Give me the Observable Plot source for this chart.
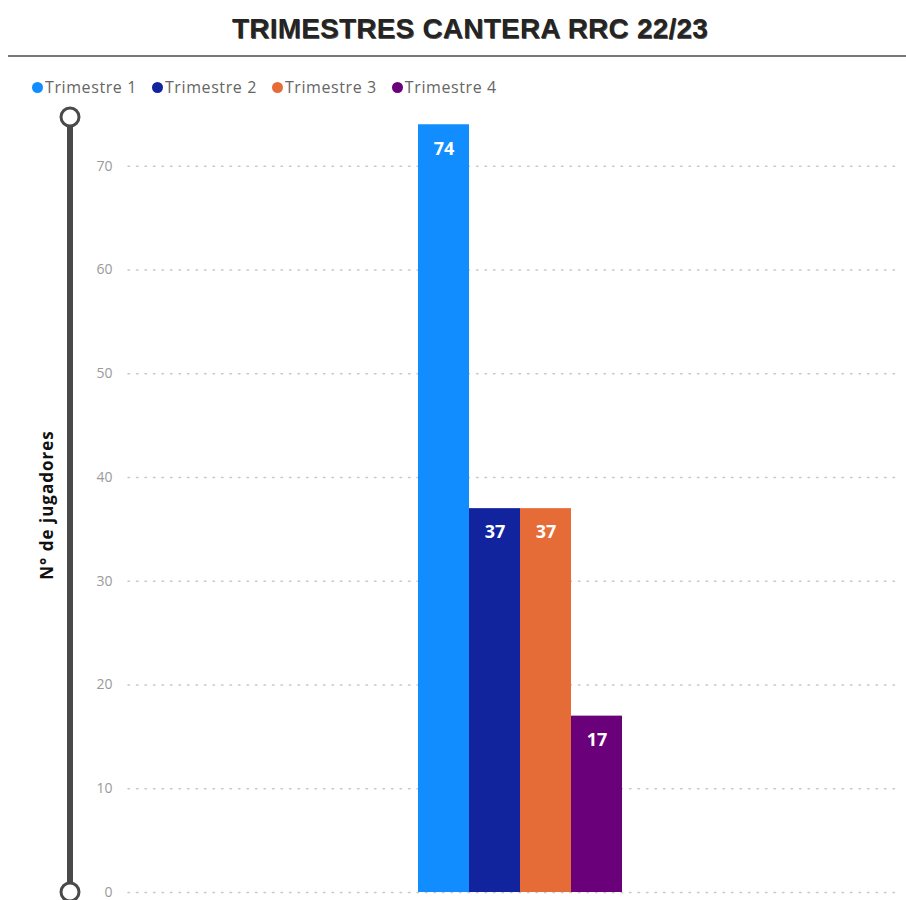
<!DOCTYPE html>
<html>
<head>
<meta charset="utf-8">
<script src="https://cdn.jsdelivr.net/npm/d3@7"></script>
<script src="https://cdn.jsdelivr.net/npm/@observablehq/plot@0.6"></script>
<style>
  html, body { margin: 0; padding: 0; background: #fff; }
  #wrap { position: relative; width: 906px; height: 900px; overflow: hidden; }
  #title { position: absolute; left: 0; top: 13px; width: 940px; text-align: center;
    font-family: "Liberation Sans", Arial, sans-serif; font-weight: bold; font-size: 28px;
    color: #252423; text-shadow: 0.6px 0.6px 0 #555; letter-spacing: 0.2px; }
  #rule { position: absolute; left: 8px; top: 55px; width: 898px; height: 2px; background: #777; }
  #legend { position: absolute; left: 32px; top: 76px; display: flex; gap: 15px;
    font-family: "Open Sans", "Noto Sans", sans-serif; font-size: 16px; letter-spacing: 0.6px; color: #666; }
  #legend .item { display: flex; align-items: center; }
  #legend .dot { width: 11px; height: 11px; border-radius: 50%; margin-right: 2px; }
  #chart { position: absolute; left: 0; top: 100px; }
</style>
</head>
<body>
<div id="wrap">
  <div id="title"></div>
  <div id="rule"></div>
  <div id="legend"></div>
  <div id="chart"></div>
</div>
<script>
const titleText = "TRIMESTRES CANTERA RRC 22/23";
const series = ["Trimestre 1", "Trimestre 2", "Trimestre 3", "Trimestre 4"];
const values = [74, 37, 37, 17];
const colors = ["#118DFF", "#12239E", "#E66C37", "#6B007B"];
const yTicks = [0, 10, 20, 30, 40, 50, 60, 70];
const yLabel = "N° de jugadores";

document.getElementById("title").textContent = titleText;

const legend = document.getElementById("legend");
series.forEach((s, i) => {
  const item = document.createElement("div");
  item.className = "item";
  const dot = document.createElement("span");
  dot.className = "dot";
  dot.style.background = colors[i];
  const lab = document.createElement("span");
  lab.textContent = s;
  item.appendChild(dot);
  item.appendChild(lab);
  legend.appendChild(item);
});

const data = series.map((s, i) => ({serie: s, value: values[i]}));

const plot = Plot.plot({
  width: 906,
  height: 800,
  marginLeft: 128,
  marginRight: 6,
  marginTop: 17,
  marginBottom: 8,
  style: {fontFamily: "'Open Sans', 'Noto Sans', sans-serif", overflow: "visible"},
  x: {domain: series, range: [416, 623], padding: 0, axis: null},
  y: {domain: [0, 74.7]},
  color: {domain: series, range: colors},
  marks: [
    Plot.ruleY(yTicks, {stroke: "#c8c8c8", strokeWidth: 1.5, strokeDasharray: "1.5,7", strokeLinecap: "round"}),
    Plot.axisY({ticks: yTicks, tickSize: 0, tickPadding: 16, fontSize: 14, fill: "#9a9a9a",
      label: yLabel, labelAnchor: "center", labelArrow: "none", labelOffset: 88}),
    Plot.barY(data, {x: "serie", y: "value", fill: "serie"}),
    Plot.text(data, {x: "serie", y: "value", text: d => String(d.value), fill: "white",
      fontWeight: "bold", fontSize: 18, dy: 24, lineAnchor: "middle"})
  ]
});
document.getElementById("chart").appendChild(plot);

// style axis label
const svg = d3.select(plot);
svg.selectAll("[aria-label='y-axis label'] text")
  .attr("fill", "#111").style("font-weight", "bold").style("font-size", "17px")
  .style("letter-spacing", "1px");

// decorative vertical axis line with end circles, drawn from the y scale
const ys = plot.scale("y");
const yTop = ys.apply(ys.domain[1]);
const yBot = ys.apply(0);
const g = svg.append("g");
g.append("line").attr("x1", 70).attr("x2", 70).attr("y1", yTop).attr("y2", yBot)
  .attr("stroke", "#4a4a4a").attr("stroke-width", 6);
[yTop, yBot].forEach(y => {
  g.append("circle").attr("cx", 70).attr("cy", y).attr("r", 9)
    .attr("fill", "white").attr("stroke", "#4a4a4a").attr("stroke-width", 3);
});
</script>
</body>
</html>
